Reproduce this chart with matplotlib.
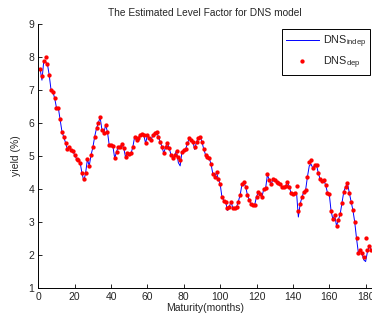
import matplotlib
matplotlib.use("Agg")
import matplotlib.pyplot as plt
import numpy as np

plt.rcParams["font.family"] = ["Liberation Sans", "DejaVu Sans"]
plt.rcParams["mathtext.default"] = "regular"

# estimated level factor (month 1..183)
maturity = np.arange(1, 184)
level_dep = [
    7.64, 7.42, 7.88, 8.01, 7.79, 7.45, 7.00, 6.95, 6.75, 6.46,
    6.46, 6.11, 5.74, 5.57, 5.40, 5.20, 5.28, 5.18, 5.16, 5.02,
    4.92, 4.88, 4.80, 4.48, 4.30, 4.48, 4.90, 4.70, 5.03, 5.26,
    5.59, 5.84, 6.00, 6.17, 5.79, 5.69, 5.94, 5.74, 5.33, 5.33,
    5.31, 4.93, 5.13, 5.28, 5.28, 5.36, 5.23, 4.96, 5.10, 5.06,
    5.08, 5.28, 5.59, 5.48, 5.54, 5.64, 5.66, 5.64, 5.38, 5.64,
    5.54, 5.48, 5.64, 5.69, 5.73, 5.59, 5.43, 5.28, 5.08, 5.28,
    5.40, 5.23, 5.03, 4.93, 5.03, 5.16, 4.96, 4.88, 5.13, 5.18,
    5.21, 5.38, 5.54, 5.48, 5.43, 5.28, 5.43, 5.54, 5.59, 5.43,
    5.20, 5.03, 4.98, 4.93, 4.75, 4.45, 4.37, 4.50, 4.30, 4.15,
    3.75, 3.65, 3.62, 3.41, 3.46, 3.62, 3.41, 3.41, 3.45, 3.62,
    3.82, 4.14, 4.20, 4.07, 3.82, 3.67, 3.53, 3.52, 3.52, 3.77,
    3.90, 3.85, 3.77, 4.00, 4.02, 4.44, 4.27, 4.14, 4.29, 4.27,
    4.22, 4.19, 4.15, 4.05, 4.05, 4.09, 4.22, 4.07, 3.87, 3.85,
    3.87, 4.10, 3.33, 3.55, 3.75, 3.92, 3.97, 4.37, 4.83, 4.88,
    4.63, 4.73, 4.72, 4.48, 4.29, 4.24, 4.27, 4.12, 3.89, 3.85,
    3.33, 3.08, 3.21, 2.88, 3.06, 3.24, 3.59, 3.92, 4.07, 4.17,
    3.89, 3.62, 3.36, 3.00, 2.50, 2.07, 2.15, 2.05, 1.93, 2.50,
    2.15, 2.26, 2.15,
]

# the indep line follows the dots except at these months
indep_months = [2, 4, 25, 77, 78, 86, 104, 142, 143, 149, 150, 179, 180, 181]
indep_values = [7.30, 7.85, 4.25, 4.80, 4.70, 5.20, 3.35, 3.90, 3.15, 4.70, 4.75, 1.85, 1.80, 2.10]

level_indep = np.array(level_dep, dtype=float)
for m, v in zip(indep_months, indep_values):
    level_indep[m - 1] = v

txt = "#262626"
fig = plt.figure(figsize=(3.72, 3.21), dpi=100)
ax = fig.add_axes([0.103, 0.103, 0.896, 0.822])

ax.plot(maturity, level_indep, color=(0, 0, 1), lw=0.7, label="DNS$_{indep}$")
ax.plot(maturity, level_dep, "o", color=(1, 0, 0), ms=3.1, mew=0, label="DNS$_{dep}$")

ax.set_xlim(0, 183.3)
ax.set_ylim(1, 9)
ax.set_xticks(np.arange(0, 181, 20))
ax.set_yticks(np.arange(1, 10, 1))
ax.tick_params(direction="in", length=3, labelsize=7.5, width=0.6, pad=3, labelcolor=txt)
for s in ["top", "right"]:
    ax.spines[s].set_visible(False)
for s in ["left", "bottom"]:
    ax.spines[s].set_linewidth(0.7)

ax.set_title("The Estimated Level Factor for DNS model", fontsize=7.3, pad=6, color=txt)
ax.set_xlabel("Maturity(months)", fontsize=7.5, labelpad=1, color=txt)
ax.set_ylabel("yield (%)", fontsize=7.5, labelpad=5, color=txt)

leg = ax.legend(loc="upper right", bbox_to_anchor=(0.995, 0.98), borderaxespad=0,
                fontsize=7.8, fancybox=False, framealpha=1, edgecolor="black",
                handlelength=3.0, handletextpad=0.4, labelspacing=0.45,
                borderpad=0.35, numpoints=1)
leg.get_frame().set_linewidth(0.7)
for t in leg.get_texts():
    t.set_color(txt)

plt.savefig("out.png", dpi=100)
